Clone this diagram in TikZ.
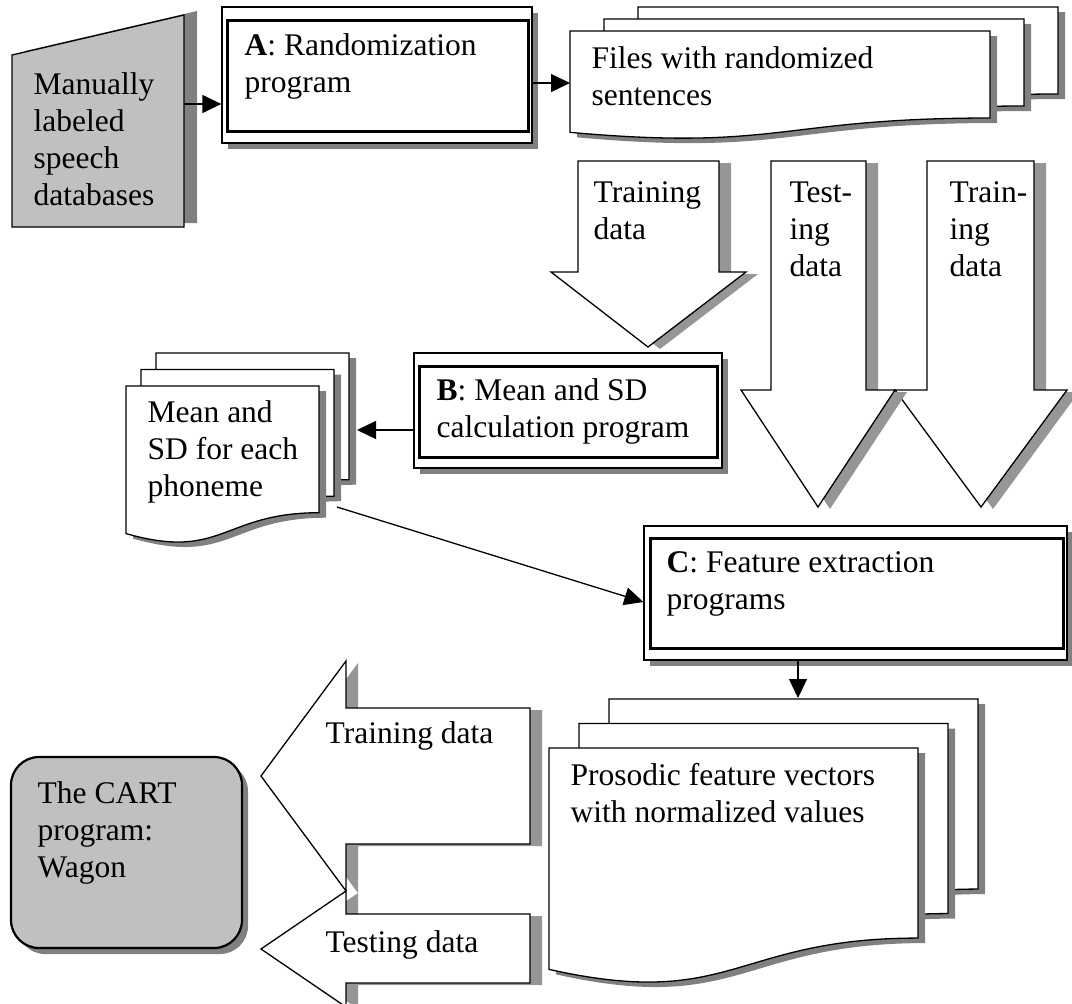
\documentclass[tikz,border=0pt]{standalone}
\usepackage{fontspec}
\setmainfont{Liberation Serif}
\usetikzlibrary{arrows.meta,calc}
\definecolor{boxshade}{HTML}{808080}
\definecolor{arrowshade}{HTML}{969696}
\definecolor{dbgray}{HTML}{C0C0C0}
% one sheet of a document stack: left, top, width, height
\newcommand{\docsheet}[4]{%
  \pgfmathsetmacro{\shR}{#1+#3}\pgfmathsetmacro{\shM}{#1+0.5*#3}%
  \pgfmathsetmacro{\shA}{#2+0.802*#4}\pgfmathsetmacro{\shB}{#2+1.108*#4}%
  \pgfmathsetmacro{\shC}{#2+0.934*#4}%
  \draw[sheet] (#1,#2) -- (\shR,#2) -- (\shR,\shA) .. controls (\shM,\shA) and (\shM,\shB) .. (#1,\shC) -- cycle;}

\begin{document}
\begin{tikzpicture}[x=1pt,y=-1pt,line width=1.3pt,
  shadowed/.style n args={3}{preaction={draw=none,fill=#3,transform canvas={xshift=#1,yshift=#2}}},
  txt/.style={anchor=north west,inner sep=0pt,align=left,font=\fontsize{31.5}{37}\selectfont},
  progbox/.style={draw,fill=white,inner sep=0pt,shadowed={6pt}{-6pt}{boxshade}},
  innerline/.style={line width=2.8pt},
  sheet/.style={draw,fill=white,shadowed={7pt}{-5pt}{boxshade}},
  blockarrow/.style={draw,fill=white,shadowed={12pt}{-2pt}{arrowshade}},
  flow/.style={-{Triangle[length=19pt,width=18pt]}}]
\useasboundingbox (0,0) rectangle (1072,1004);

% speech databases
\filldraw[fill=dbgray,shadowed={13pt}{4pt}{boxshade}] (12,55) -- (184,15) -- (184,227) -- (12,227) -- cycle;
\node[txt] (tManual) at (33,68) {\strut Manually\\labeled\\speech\\databases};
\coordinate (manOut) at (184,104);

% program A
\node[progbox,minimum width=310pt,minimum height=136pt] (boxA) at (377,75) {};
\draw[innerline] ($(boxA.north west)+(6,14)$) rectangle ($(boxA.south east)+(-4,-12)$);
\node[txt] (tA) at (244,29) {\strut\textbf{A}: Randomization\\program};

% randomized files
\foreach \k in {2,1,0} \docsheet{570+34*\k}{31-12*\k}{420}{108.5};
\node[txt] (tFiles) at (591,42) {\strut Files with randomized\\sentences};
\coordinate (filesIn) at (570,83);

% data arrows
\filldraw[blockarrow] (578,161) -- (719,161) -- (719,272) -- (746,272) -- (648,347) -- (551,272) -- (578,272) -- cycle;
\filldraw[blockarrow] (927,161) -- (1034,161) -- (1034,390) -- (1067,390) -- (981,507) -- (895,390) -- (927,390) -- cycle;
\filldraw[blockarrow] (771,161) -- (866,161) -- (866,390) -- (895,390) -- (818,507) -- (741,390) -- (771,390) -- cycle;
\node[txt] (tTrain) at (593,176) {\strut Training\\data};
\node[txt] (tTest) at (789,176) {\strut Test-\\ing\\data};
\node[txt] (tTrainB) at (949,176) {\strut Train-\\ing\\data};

% program B
\node[progbox,minimum width=308pt,minimum height=115pt] (boxB) at (568,410.5) {};
\draw[innerline] ($(boxB.north west)+(6,14)$) rectangle ($(boxB.south east)+(-5,-11)$);
\node[txt] (tB) at (436,374) {\strut\textbf{B}: Mean and SD\\calculation program};

% mean and SD files
\foreach \k in {2,1,0} \docsheet{126+15*\k}{386-16.5*\k}{193}{158};
\node[txt] (tMean) at (147,396) {\strut Mean and\\SD for each\\phoneme};
\coordinate (meanIn) at (357,430);
\coordinate (meanOut) at (337,507);

% program C
\node[progbox,minimum width=423pt,minimum height=134pt] (boxC) at (855.5,593) {};
\draw[innerline] ($(boxC.north west)+(7,13)$) rectangle ($(boxC.south east)+(-4,-12)$);
\node[txt] (tC) at (666,546) {\strut\textbf{C}: Feature extraction\\programs};

% feature vectors
\foreach \k in {2,1,0} \docsheet{549+30*\k}{748-24.5*\k}{369}{237};
\node[txt] (tPros) at (570,759) {\strut Prosodic feature vectors\\with normalized values};
\coordinate (prosIn) at (798,698);

% CART
\node[draw,fill=dbgray,line width=2.2pt,rounded corners=28pt,minimum width=231pt,minimum height=191pt,shadowed={6pt}{-6pt}{boxshade}] (cart) at (126.5,852.5) {};
\node[txt] (tCart) at (37,777) {\strut The CART\\program:\\Wagon};

\filldraw[blockarrow] (530,708) -- (530,844) -- (346,844) -- (346,891) -- (261,776) -- (346,661) -- (346,708) -- cycle;
\filldraw[blockarrow] (530,914) -- (530,983) -- (346,983) -- (346,1007) -- (261,949) -- (346,891) -- (346,914) -- cycle;
\node[txt] (tTrainL) at (325,717) {\strut Training data};
\node[txt] (tTestL) at (325,926) {\strut Testing data};

% connectors
\draw[flow] (manOut) -- (manOut -| boxA.west);
\draw[flow] (filesIn -| boxA.east) -- (filesIn);
\draw[flow] (meanIn -| boxB.west) -- (meanIn);
\draw[flow] (meanOut) -- ($(boxC.west)+(0,9)$);
\draw[flow] (prosIn |- boxC.south) -- (prosIn);
\end{tikzpicture}
\end{document}
